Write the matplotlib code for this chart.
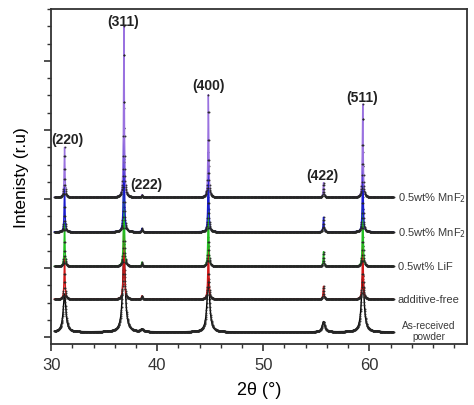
import matplotlib
matplotlib.use('Agg')
import matplotlib.pyplot as plt
import matplotlib.ticker as ticker
import numpy as np

plt.rcParams.update({
  'font.family'      : 'Liberation Sans',
  'font.size'        : 11,
  'figure.facecolor' : 'w',
  'figure.dpi'       : 100,
  'figure.figsize'   : (4.74, 4.06),
  'axes.linewidth'   : 1.3,
  'axes.edgecolor'   : '#333333',
  'xtick.direction'  : 'out',
  'ytick.direction'  : 'out',
  'xtick.color'      : '#333333',
  'ytick.color'      : '#333333',
})

# samples, bottom to top
samples  = ['As-received\npowder', 'additive-free', '0.5wt% LiF', '0.5wt% MnF$_2$', '0.5wt% MnF$_2$']
colors   = ['#000000', '#d01818', '#22c022', '#1a1ad0', '#9a72e0']
offsets  = [0.3, 2.2, 4.1, 6.1, 8.1]
hwhm     = [0.15, 0.05, 0.045, 0.045, 0.045]   # peak half widths (deg)

# reflections
hkl      = ['(220)', '(311)', '(222)', '(400)', '(422)', '(511)']
pos      = [31.26, 36.86, 38.56, 44.82, 55.68, 59.38]

# peak heights (r.u.) per sample, same order as hkl
h_asrec  = [2.2, 4.6, 0.15, 3.1, 0.6, 3.3]
h_free   = [2.4, 5.2, 0.2, 3.6, 0.75, 3.6]
h_lif    = [2.5, 6.2, 0.25, 4.0, 0.85, 4.0]
h_mnf_1  = [2.6, 7.2, 0.2, 4.6, 0.85, 4.6]
h_mnf_2  = [2.9, 9.9, 0.15, 5.95, 0.85, 5.4]
heights  = [h_asrec, h_free, h_lif, h_mnf_1, h_mnf_2]

# label positions for reflections
lab_x    = [31.55, 36.8, 38.95, 44.8, 55.6, 59.3]
lab_y    = [11.5, 18.3, 8.85, 14.6, 9.4, 13.9]

two_theta = np.arange(30.3, 62.3, 0.02)

fig, ax = plt.subplots()
fig.subplots_adjust(left=0.108, right=0.985, bottom=0.150, top=0.975)

for i in range(len(samples)):
  y = np.full_like(two_theta, offsets[i])
  for p, h in zip(pos, heights[i]):
    y += h / (1 + ((two_theta - p) / hwhm[i])**2)
  ax.plot(two_theta, y, color=colors[i], linewidth=1.0, zorder=2 + 2*i)
  ax.plot(two_theta, y, linestyle='none', marker='o', markersize=1.4,
          markerfacecolor='#262626', markeredgecolor='none', alpha=0.9, zorder=3 + 2*i)

# reflection labels
for t, lx, ly in zip(hkl, lab_x, lab_y):
  ax.text(lx, ly, t, fontsize=10, weight='bold', ha='center', va='center', color='#222222')

# sample labels
for i in range(1, len(samples)):
  ax.text(62.7, offsets[i], samples[i], fontsize=8, ha='left', va='center', color='#3a3a3a')
ax.text(65.6, offsets[0] + 0.1, samples[0], fontsize=7.3, ha='center', va='center',
        color='#3a3a3a', linespacing=1.15)

ax.set_xlim(30, 69.2)
ax.set_ylim(-0.4, 19)
ax.xaxis.set_major_locator(ticker.MultipleLocator(10))
ax.xaxis.set_minor_locator(ticker.MultipleLocator(2))
ax.yaxis.set_major_locator(ticker.MultipleLocator(4))
ax.yaxis.set_minor_locator(ticker.MultipleLocator(1))
ax.tick_params(axis='y', which='both', labelleft=False)
ax.tick_params(which='major', length=5, width=1.2)
ax.tick_params(which='minor', length=3, width=1.0)
ax.tick_params(axis='x', labelsize=12, pad=4)

ax.set_xlabel('2θ (°)', fontsize=13, labelpad=7)
ax.set_ylabel('Intenisty (r.u)', fontsize=12.5, labelpad=11)

plt.savefig('out.png')
